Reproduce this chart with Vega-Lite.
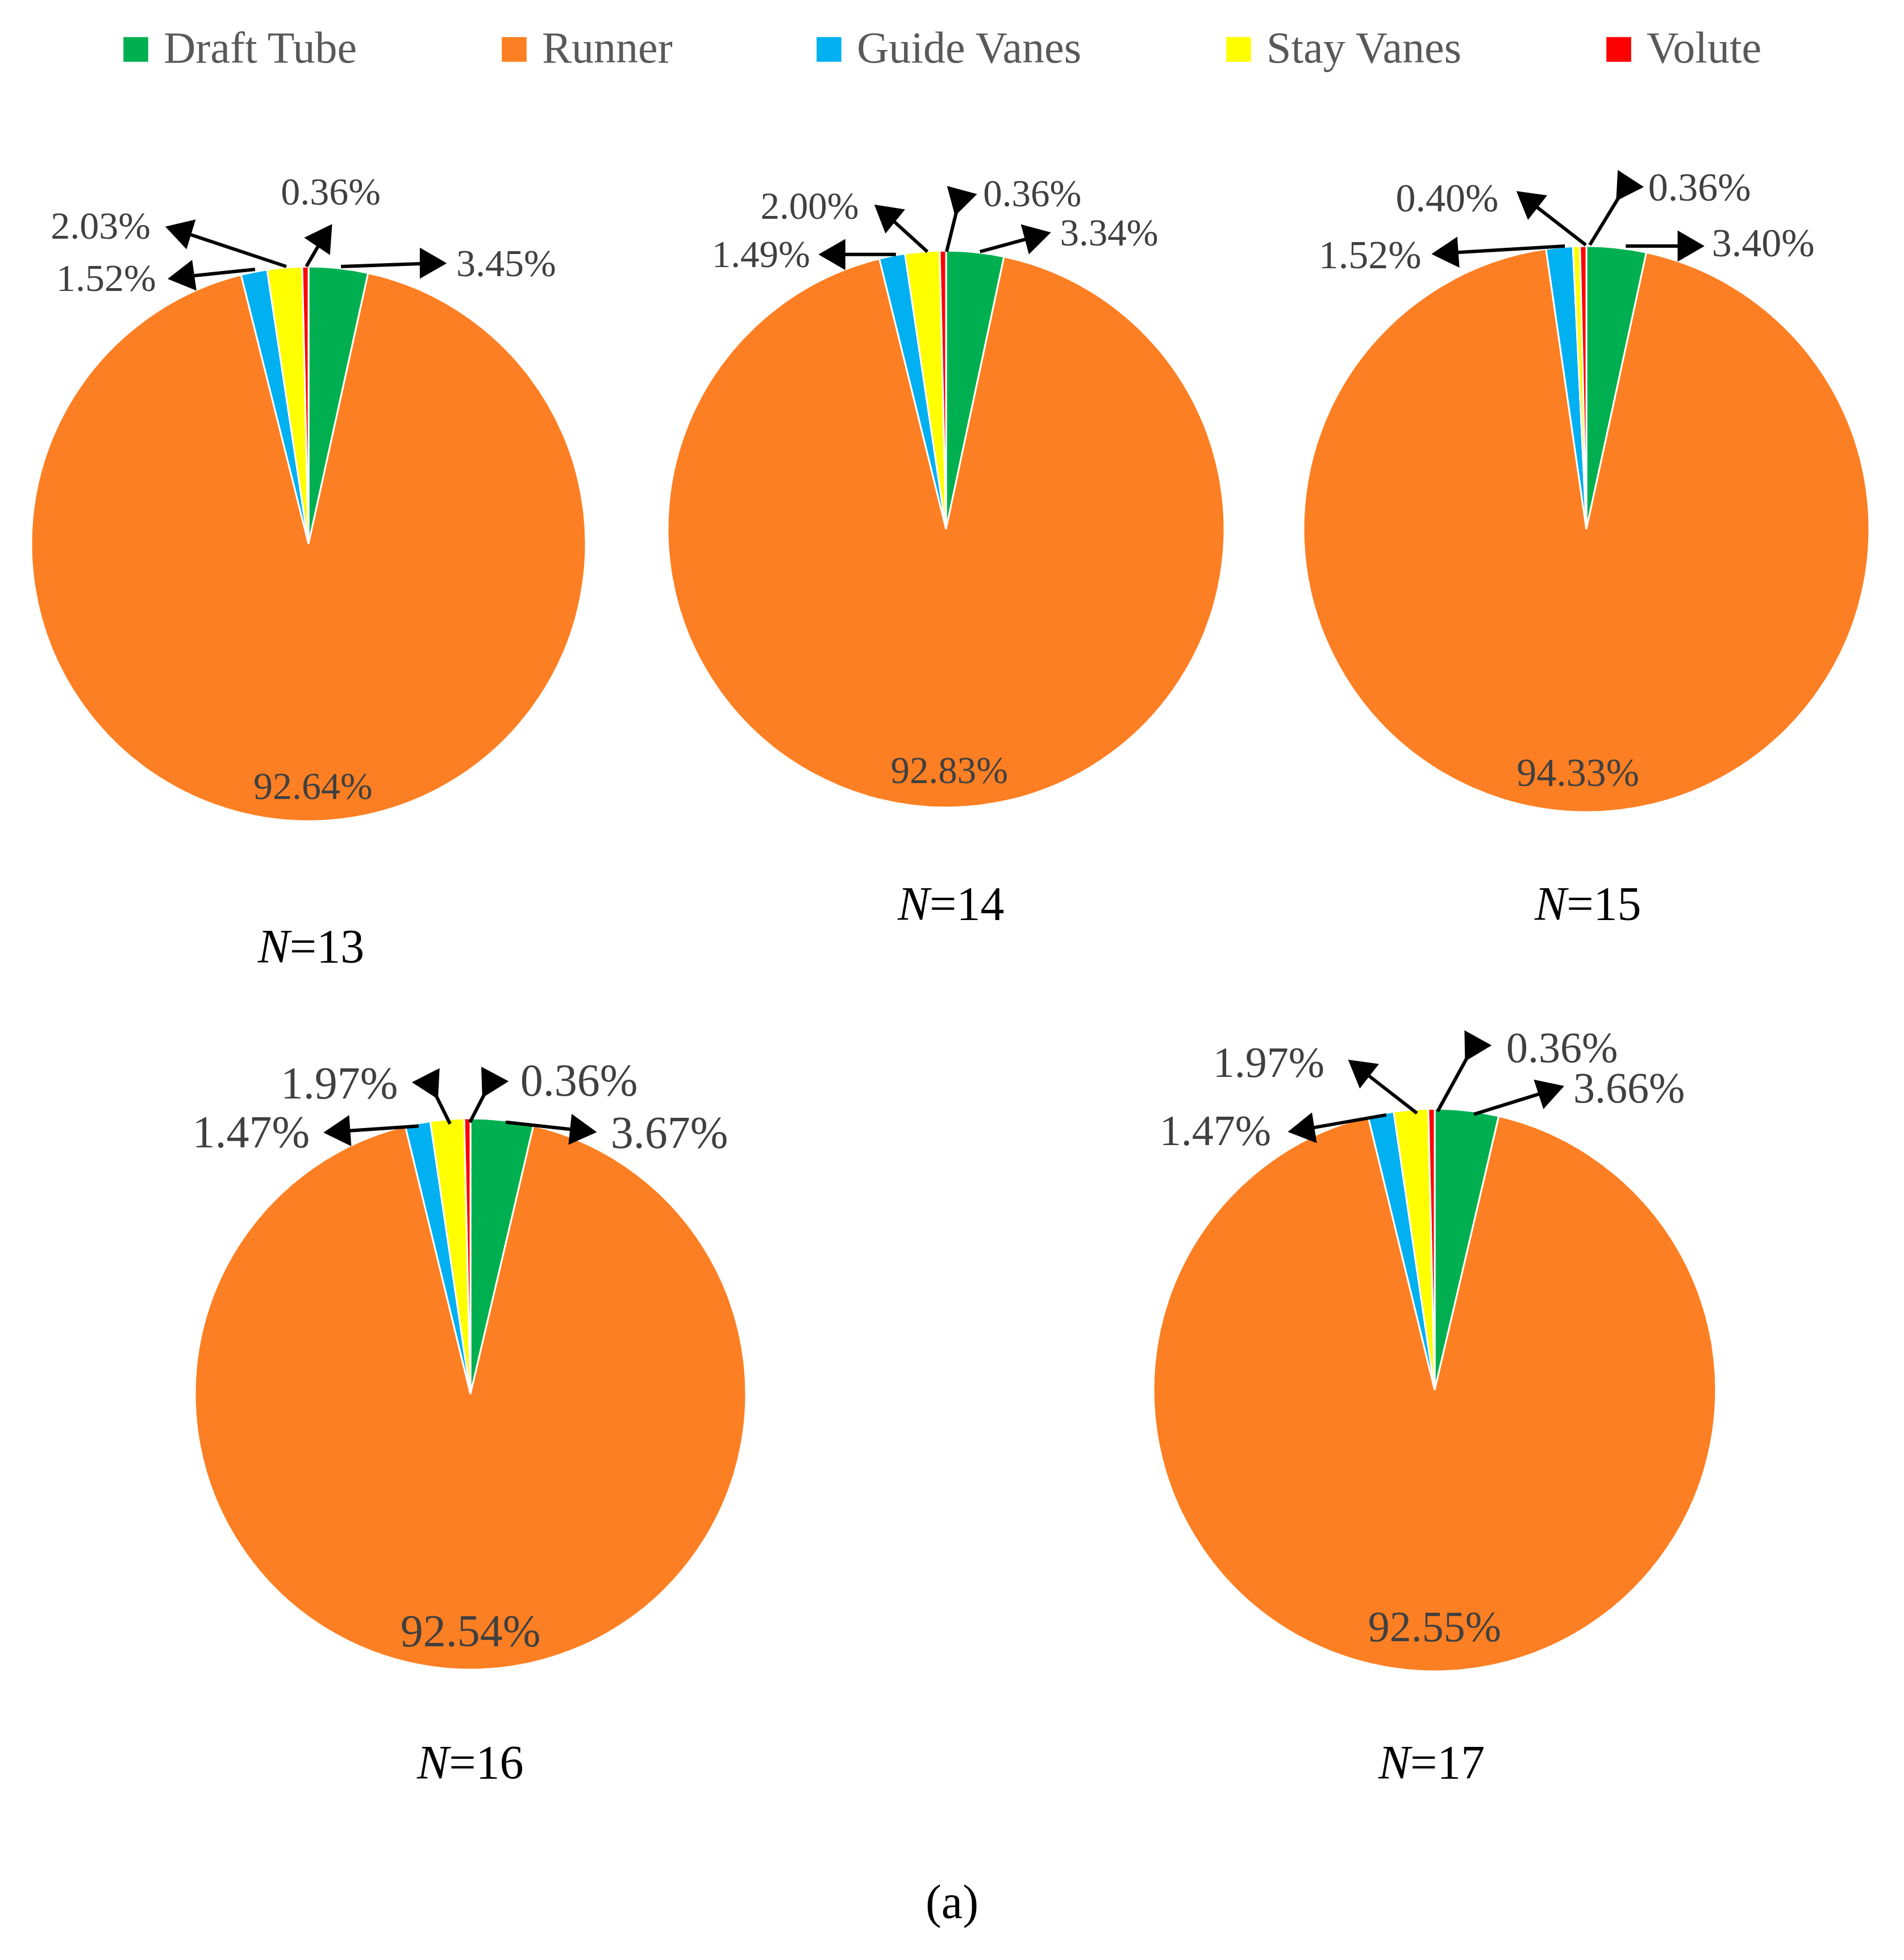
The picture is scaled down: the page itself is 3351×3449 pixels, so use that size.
{
  "$schema": "https://vega.github.io/schema/vega-lite/v6.json",
  "padding": 0,
  "background": "white",
  "datasets": {
    "parts": [
      {"pie": 13, "part": "Draft Tube", "order": 1, "share": 0.0345},
      {"pie": 13, "part": "Runner", "order": 2, "share": 0.9264},
      {"pie": 13, "part": "Guide Vanes", "order": 3, "share": 0.0152},
      {"pie": 13, "part": "Stay Vanes", "order": 4, "share": 0.0203},
      {"pie": 13, "part": "Volute", "order": 5, "share": 0.0036},
      {"pie": 14, "part": "Draft Tube", "order": 1, "share": 0.0334},
      {"pie": 14, "part": "Runner", "order": 2, "share": 0.9283},
      {"pie": 14, "part": "Guide Vanes", "order": 3, "share": 0.0149},
      {"pie": 14, "part": "Stay Vanes", "order": 4, "share": 0.0200},
      {"pie": 14, "part": "Volute", "order": 5, "share": 0.0036},
      {"pie": 15, "part": "Draft Tube", "order": 1, "share": 0.0340},
      {"pie": 15, "part": "Runner", "order": 2, "share": 0.9433},
      {"pie": 15, "part": "Guide Vanes", "order": 3, "share": 0.0152},
      {"pie": 15, "part": "Stay Vanes", "order": 4, "share": 0.0040},
      {"pie": 15, "part": "Volute", "order": 5, "share": 0.0036},
      {"pie": 16, "part": "Draft Tube", "order": 1, "share": 0.0367},
      {"pie": 16, "part": "Runner", "order": 2, "share": 0.9254},
      {"pie": 16, "part": "Guide Vanes", "order": 3, "share": 0.0147},
      {"pie": 16, "part": "Stay Vanes", "order": 4, "share": 0.0197},
      {"pie": 16, "part": "Volute", "order": 5, "share": 0.0036},
      {"pie": 17, "part": "Draft Tube", "order": 1, "share": 0.0366},
      {"pie": 17, "part": "Runner", "order": 2, "share": 0.9255},
      {"pie": 17, "part": "Guide Vanes", "order": 3, "share": 0.0147},
      {"pie": 17, "part": "Stay Vanes", "order": 4, "share": 0.0197},
      {"pie": 17, "part": "Volute", "order": 5, "share": 0.0036}
    ],
    "panels": [
      {"pie": 13, "n": "=13"},
      {"pie": 14, "n": "=14"},
      {"pie": 15, "n": "=15"},
      {"pie": 16, "n": "=16"},
      {"pie": 17, "n": "=17"}
    ],
    "c13": [
      {"part": "Draft Tube", "ax": 0.117, "ay": 1.0, "hx": 0.45, "hy": 1.012, "head": 0, "tx": 0.713, "ty": 1.006},
      {"part": "Runner", "tx": 0.016, "ty": -0.879},
      {"part": "Guide Vanes", "ax": -0.193, "ay": 0.99, "hx": -0.46, "hy": 0.962, "head": 172, "tx": -0.73, "ty": 0.953},
      {"part": "Stay Vanes", "ax": -0.08, "ay": 1.0, "hx": -0.47, "hy": 1.13, "head": -163, "tx": -0.75, "ty": 1.141},
      {"part": "Volute", "ax": -0.008, "ay": 1.0, "hx": 0.058, "hy": 1.113, "head": -56, "tx": 0.08, "ty": 1.264}
    ],
    "c14": [
      {"part": "Draft Tube", "ax": 0.122, "ay": 0.996, "hx": 0.33, "hy": 1.053, "head": -15, "tx": 0.586, "ty": 1.059},
      {"part": "Runner", "tx": 0.012, "ty": -0.871},
      {"part": "Guide Vanes", "ax": -0.18, "ay": 0.986, "hx": -0.41, "hy": 0.986, "head": 180, "tx": -0.665, "ty": 0.982},
      {"part": "Stay Vanes", "ax": -0.067, "ay": 0.996, "hx": -0.22, "hy": 1.135, "head": -141, "tx": -0.49, "ty": 1.155},
      {"part": "Volute", "ax": 0.002, "ay": 0.996, "hx": 0.045, "hy": 1.171, "head": 105, "tx": 0.31, "ty": 1.2}
    ],
    "c15": [
      {"part": "Draft Tube", "ax": 0.139, "ay": 1.0, "hx": 0.37, "hy": 1.0, "head": 0, "tx": 0.625, "ty": 1.006},
      {"part": "Runner", "tx": -0.03, "ty": -0.865},
      {"part": "Guide Vanes", "ax": -0.076, "ay": 1.0, "hx": -0.5, "hy": 0.975, "head": 176, "tx": -0.765, "ty": 0.964},
      {"part": "Stay Vanes", "ax": -0.002, "ay": 1.004, "hx": -0.21, "hy": 1.165, "head": -142, "tx": -0.492, "ty": 1.165},
      {"part": "Volute", "ax": 0.012, "ay": 1.004, "hx": 0.131, "hy": 1.199, "head": 123, "tx": 0.4, "ty": 1.203}
    ],
    "c16": [
      {"part": "Draft Tube", "ax": 0.128, "ay": 0.986, "hx": 0.41, "hy": 0.955, "head": 6, "tx": 0.722, "ty": 0.942},
      {"part": "Runner", "tx": 0.0, "ty": -0.866},
      {"part": "Guide Vanes", "ax": -0.188, "ay": 0.972, "hx": -0.485, "hy": 0.952, "head": 176, "tx": -0.796, "ty": 0.945},
      {"part": "Stay Vanes", "ax": -0.074, "ay": 0.98, "hx": -0.14, "hy": 1.113, "head": 63, "tx": -0.476, "ty": 1.122},
      {"part": "Volute", "ax": -0.002, "ay": 0.986, "hx": 0.066, "hy": 1.118, "head": 118, "tx": 0.394, "ty": 1.132}
    ],
    "c17": [
      {"part": "Draft Tube", "ax": 0.139, "ay": 0.98, "hx": 0.415, "hy": 1.066, "head": -18, "tx": 0.691, "ty": 1.068},
      {"part": "Runner", "tx": 0.0, "ty": -0.846},
      {"part": "Guide Vanes", "ax": -0.172, "ay": 0.978, "hx": -0.475, "hy": 0.925, "head": 171, "tx": -0.78, "ty": 0.917},
      {"part": "Stay Vanes", "ax": -0.063, "ay": 0.984, "hx": -0.27, "hy": 1.145, "head": -142, "tx": -0.59, "ty": 1.16},
      {"part": "Volute", "ax": 0.01, "ay": 0.99, "hx": 0.131, "hy": 1.21, "head": 119, "tx": 0.453, "ty": 1.212}
    ]
  },
  "title": {
    "text": "(a)",
    "orient": "bottom",
    "anchor": "middle",
    "font": "Liberation Serif",
    "fontSize": 84,
    "fontWeight": "normal",
    "color": "#000000",
    "offset": 79
  },
  "spacing": 0,
  "vconcat": [
    {
      "spacing": 0,
      "hconcat": [
        {
          "width": 1110,
          "height": 1740,
          "layer": [
            {
              "data": {"name": "parts"},
              "transform": [
                {"filter": "datum.pie == 13"},
                {"stack": "share", "groupby": ["pie"], "sort": [{"field": "order", "order": "ascending"}], "offset": "normalize", "as": ["s0", "s1"]}
              ],
              "mark": {"type": "arc", "radius": 488, "stroke": "#ffffff", "strokeWidth": 3},
              "encoding": {
                "x": {"datum": 0, "type": "quantitative", "scale": {"domain": [-1.1127, 1.1619], "nice": false, "zero": false}, "axis": null},
                "y": {"datum": 0, "type": "quantitative", "scale": {"domain": [-1.6045, 1.9611], "nice": false, "zero": false}, "axis": null},
                "theta": {"field": "s0", "type": "quantitative", "scale": {"domain": [0, 1]}, "stack": null},
                "theta2": {"field": "s1"},
                "color": {
                  "field": "part",
                  "type": "nominal",
                  "scale": {"domain": ["Draft Tube", "Runner", "Guide Vanes", "Stay Vanes", "Volute"], "range": ["#00b050", "#fd7f23", "#00b0f0", "#ffff00", "#ff0000"]},
                  "legend": {"orient": "none", "legendX": 200, "legendY": 48, "direction": "horizontal", "title": null, "symbolType": "square", "symbolSize": 1900, "symbolStrokeWidth": 0, "labelFont": "Liberation Serif", "labelFontSize": 78, "labelColor": "#595959", "columnPadding": 236, "labelOffset": 10, "labelLimit": 0}
                }
              }
            },
            {
              "data": {"name": "c13"},
              "transform": [{"filter": "isValid(datum.ax)"}],
              "mark": {"type": "rule", "color": "#000000", "strokeWidth": 6},
              "encoding": {
                "x": {"field": "ax", "type": "quantitative"},
                "y": {"field": "ay", "type": "quantitative"},
                "x2": {"field": "hx"},
                "y2": {"field": "hy"}
              }
            },
            {
              "data": {"name": "c13"},
              "transform": [{"filter": "isValid(datum.ax)"}],
              "mark": {"type": "point", "shape": "triangle-right", "filled": true, "color": "#000000", "opacity": 1, "size": 3000},
              "encoding": {
                "x": {"field": "hx", "type": "quantitative"},
                "y": {"field": "hy", "type": "quantitative"},
                "angle": {"field": "head", "type": "quantitative", "scale": null}
              }
            },
            {
              "data": {"name": "parts"},
              "transform": [
                {"filter": "datum.pie == 13"},
                {"lookup": "part", "from": {"data": {"name": "c13"}, "key": "part", "fields": ["tx", "ty"]}}
              ],
              "mark": {"type": "text", "font": "Liberation Serif", "fontSize": 68, "color": "#404040", "align": "center", "baseline": "middle"},
              "encoding": {
                "x": {"field": "tx", "type": "quantitative"},
                "y": {"field": "ty", "type": "quantitative"},
                "text": {"field": "share", "type": "quantitative", "format": ".2%"}
              }
            },
            {
              "data": {"name": "panels"},
              "transform": [{"filter": "datum.pie == 13"}],
              "layer": [
                {
                  "mark": {"type": "text", "text": "N", "font": "Liberation Serif", "fontStyle": "italic", "fontSize": 84, "color": "#000000", "align": "right", "baseline": "middle"},
                  "encoding": {"x": {"datum": -0.068, "type": "quantitative"}, "y": {"datum": -1.459, "type": "quantitative"}}
                },
                {
                  "mark": {"type": "text", "font": "Liberation Serif", "fontSize": 84, "color": "#000000", "align": "left", "baseline": "middle"},
                  "encoding": {"x": {"datum": -0.068, "type": "quantitative"}, "y": {"datum": -1.459, "type": "quantitative"}, "text": {"field": "n"}}
                }
              ]
            }
          ]
        },
        {
          "width": 1110,
          "height": 1740,
          "layer": [
            {
              "data": {"name": "parts"},
              "transform": [
                {"filter": "datum.pie == 14"},
                {"stack": "share", "groupby": ["pie"], "sort": [{"field": "order", "order": "ascending"}], "offset": "normalize", "as": ["s0", "s1"]}
              ],
              "mark": {"type": "arc", "radius": 490, "stroke": "#ffffff", "strokeWidth": 3},
              "encoding": {
                "x": {"datum": 0, "type": "quantitative", "scale": {"domain": [-1.1327, 1.1327], "nice": false, "zero": false}, "axis": null},
                "y": {"datum": 0, "type": "quantitative", "scale": {"domain": [-1.651, 1.9], "nice": false, "zero": false}, "axis": null},
                "theta": {"field": "s0", "type": "quantitative", "scale": {"domain": [0, 1]}, "stack": null},
                "theta2": {"field": "s1"},
                "color": {
                  "field": "part",
                  "type": "nominal",
                  "scale": {"domain": ["Draft Tube", "Runner", "Guide Vanes", "Stay Vanes", "Volute"], "range": ["#00b050", "#fd7f23", "#00b0f0", "#ffff00", "#ff0000"]},
                  "legend": {"orient": "none", "legendX": 200, "legendY": 48, "direction": "horizontal", "title": null, "symbolType": "square", "symbolSize": 1900, "symbolStrokeWidth": 0, "labelFont": "Liberation Serif", "labelFontSize": 78, "labelColor": "#595959", "columnPadding": 236, "labelOffset": 10, "labelLimit": 0}
                }
              }
            },
            {
              "data": {"name": "c14"},
              "transform": [{"filter": "isValid(datum.ax)"}],
              "mark": {"type": "rule", "color": "#000000", "strokeWidth": 6},
              "encoding": {
                "x": {"field": "ax", "type": "quantitative"},
                "y": {"field": "ay", "type": "quantitative"},
                "x2": {"field": "hx"},
                "y2": {"field": "hy"}
              }
            },
            {
              "data": {"name": "c14"},
              "transform": [{"filter": "isValid(datum.ax)"}],
              "mark": {"type": "point", "shape": "triangle-right", "filled": true, "color": "#000000", "opacity": 1, "size": 3000},
              "encoding": {
                "x": {"field": "hx", "type": "quantitative"},
                "y": {"field": "hy", "type": "quantitative"},
                "angle": {"field": "head", "type": "quantitative", "scale": null}
              }
            },
            {
              "data": {"name": "parts"},
              "transform": [
                {"filter": "datum.pie == 14"},
                {"lookup": "part", "from": {"data": {"name": "c14"}, "key": "part", "fields": ["tx", "ty"]}}
              ],
              "mark": {"type": "text", "font": "Liberation Serif", "fontSize": 67, "color": "#404040", "align": "center", "baseline": "middle"},
              "encoding": {
                "x": {"field": "tx", "type": "quantitative"},
                "y": {"field": "ty", "type": "quantitative"},
                "text": {"field": "share", "type": "quantitative", "format": ".2%"}
              }
            },
            {
              "data": {"name": "panels"},
              "transform": [{"filter": "datum.pie == 14"}],
              "layer": [
                {
                  "mark": {"type": "text", "text": "N", "font": "Liberation Serif", "fontStyle": "italic", "fontSize": 84, "color": "#000000", "align": "right", "baseline": "middle"},
                  "encoding": {"x": {"datum": -0.059, "type": "quantitative"}, "y": {"datum": -1.353, "type": "quantitative"}}
                },
                {
                  "mark": {"type": "text", "font": "Liberation Serif", "fontSize": 84, "color": "#000000", "align": "left", "baseline": "middle"},
                  "encoding": {"x": {"datum": -0.059, "type": "quantitative"}, "y": {"datum": -1.353, "type": "quantitative"}, "text": {"field": "n"}}
                }
              ]
            }
          ]
        },
        {
          "width": 1131,
          "height": 1740,
          "layer": [
            {
              "data": {"name": "parts"},
              "transform": [
                {"filter": "datum.pie == 15"},
                {"stack": "share", "groupby": ["pie"], "sort": [{"field": "order", "order": "ascending"}], "offset": "normalize", "as": ["s0", "s1"]}
              ],
              "mark": {"type": "arc", "radius": 498, "stroke": "#ffffff", "strokeWidth": 3},
              "encoding": {
                "x": {"datum": 0, "type": "quantitative", "scale": {"domain": [-1.1486, 1.1225], "nice": false, "zero": false}, "axis": null},
                "y": {"datum": 0, "type": "quantitative", "scale": {"domain": [-1.6245, 1.8695], "nice": false, "zero": false}, "axis": null},
                "theta": {"field": "s0", "type": "quantitative", "scale": {"domain": [0, 1]}, "stack": null},
                "theta2": {"field": "s1"},
                "color": {
                  "field": "part",
                  "type": "nominal",
                  "scale": {"domain": ["Draft Tube", "Runner", "Guide Vanes", "Stay Vanes", "Volute"], "range": ["#00b050", "#fd7f23", "#00b0f0", "#ffff00", "#ff0000"]},
                  "legend": {"orient": "none", "legendX": 200, "legendY": 48, "direction": "horizontal", "title": null, "symbolType": "square", "symbolSize": 1900, "symbolStrokeWidth": 0, "labelFont": "Liberation Serif", "labelFontSize": 78, "labelColor": "#595959", "columnPadding": 236, "labelOffset": 10, "labelLimit": 0}
                }
              }
            },
            {
              "data": {"name": "c15"},
              "transform": [{"filter": "isValid(datum.ax)"}],
              "mark": {"type": "rule", "color": "#000000", "strokeWidth": 6},
              "encoding": {
                "x": {"field": "ax", "type": "quantitative"},
                "y": {"field": "ay", "type": "quantitative"},
                "x2": {"field": "hx"},
                "y2": {"field": "hy"}
              }
            },
            {
              "data": {"name": "c15"},
              "transform": [{"filter": "isValid(datum.ax)"}],
              "mark": {"type": "point", "shape": "triangle-right", "filled": true, "color": "#000000", "opacity": 1, "size": 3000},
              "encoding": {
                "x": {"field": "hx", "type": "quantitative"},
                "y": {"field": "hy", "type": "quantitative"},
                "angle": {"field": "head", "type": "quantitative", "scale": null}
              }
            },
            {
              "data": {"name": "parts"},
              "transform": [
                {"filter": "datum.pie == 15"},
                {"lookup": "part", "from": {"data": {"name": "c15"}, "key": "part", "fields": ["tx", "ty"]}}
              ],
              "mark": {"type": "text", "font": "Liberation Serif", "fontSize": 70, "color": "#404040", "align": "center", "baseline": "middle"},
              "encoding": {
                "x": {"field": "tx", "type": "quantitative"},
                "y": {"field": "ty", "type": "quantitative"},
                "text": {"field": "share", "type": "quantitative", "format": ".2%"}
              }
            },
            {
              "data": {"name": "panels"},
              "transform": [{"filter": "datum.pie == 15"}],
              "layer": [
                {
                  "mark": {"type": "text", "text": "N", "font": "Liberation Serif", "fontStyle": "italic", "fontSize": 84, "color": "#000000", "align": "right", "baseline": "middle"},
                  "encoding": {"x": {"datum": -0.07, "type": "quantitative"}, "y": {"datum": -1.331, "type": "quantitative"}}
                },
                {
                  "mark": {"type": "text", "font": "Liberation Serif", "fontSize": 84, "color": "#000000", "align": "left", "baseline": "middle"},
                  "encoding": {"x": {"datum": -0.07, "type": "quantitative"}, "y": {"datum": -1.331, "type": "quantitative"}, "text": {"field": "n"}}
                }
              ]
            }
          ]
        }
      ]
    },
    {
      "spacing": 0,
      "hconcat": [
        {
          "width": 1676,
          "height": 1490,
          "layer": [
            {
              "data": {"name": "parts"},
              "transform": [
                {"filter": "datum.pie == 16"},
                {"stack": "share", "groupby": ["pie"], "sort": [{"field": "order", "order": "ascending"}], "offset": "normalize", "as": ["s0", "s1"]}
              ],
              "mark": {"type": "arc", "radius": 485, "stroke": "#ffffff", "strokeWidth": 3},
              "encoding": {
                "x": {"datum": 0, "type": "quantitative", "scale": {"domain": [-1.7072, 1.7485], "nice": false, "zero": false}, "axis": null},
                "y": {"datum": 0, "type": "quantitative", "scale": {"domain": [-1.6021, 1.4701], "nice": false, "zero": false}, "axis": null},
                "theta": {"field": "s0", "type": "quantitative", "scale": {"domain": [0, 1]}, "stack": null},
                "theta2": {"field": "s1"},
                "color": {
                  "field": "part",
                  "type": "nominal",
                  "scale": {"domain": ["Draft Tube", "Runner", "Guide Vanes", "Stay Vanes", "Volute"], "range": ["#00b050", "#fd7f23", "#00b0f0", "#ffff00", "#ff0000"]},
                  "legend": {"orient": "none", "legendX": 200, "legendY": 48, "direction": "horizontal", "title": null, "symbolType": "square", "symbolSize": 1900, "symbolStrokeWidth": 0, "labelFont": "Liberation Serif", "labelFontSize": 78, "labelColor": "#595959", "columnPadding": 236, "labelOffset": 10, "labelLimit": 0}
                }
              }
            },
            {
              "data": {"name": "c16"},
              "transform": [{"filter": "isValid(datum.ax)"}],
              "mark": {"type": "rule", "color": "#000000", "strokeWidth": 6},
              "encoding": {
                "x": {"field": "ax", "type": "quantitative"},
                "y": {"field": "ay", "type": "quantitative"},
                "x2": {"field": "hx"},
                "y2": {"field": "hy"}
              }
            },
            {
              "data": {"name": "c16"},
              "transform": [{"filter": "isValid(datum.ax)"}],
              "mark": {"type": "point", "shape": "triangle-right", "filled": true, "color": "#000000", "opacity": 1, "size": 3000},
              "encoding": {
                "x": {"field": "hx", "type": "quantitative"},
                "y": {"field": "hy", "type": "quantitative"},
                "angle": {"field": "head", "type": "quantitative", "scale": null}
              }
            },
            {
              "data": {"name": "parts"},
              "transform": [
                {"filter": "datum.pie == 16"},
                {"lookup": "part", "from": {"data": {"name": "c16"}, "key": "part", "fields": ["tx", "ty"]}}
              ],
              "mark": {"type": "text", "font": "Liberation Serif", "fontSize": 80, "color": "#404040", "align": "center", "baseline": "middle"},
              "encoding": {
                "x": {"field": "tx", "type": "quantitative"},
                "y": {"field": "ty", "type": "quantitative"},
                "text": {"field": "share", "type": "quantitative", "format": ".2%"}
              }
            },
            {
              "data": {"name": "panels"},
              "transform": [{"filter": "datum.pie == 16"}],
              "layer": [
                {
                  "mark": {"type": "text", "text": "N", "font": "Liberation Serif", "fontStyle": "italic", "fontSize": 84, "color": "#000000", "align": "right", "baseline": "middle"},
                  "encoding": {"x": {"datum": -0.078, "type": "quantitative"}, "y": {"datum": -1.344, "type": "quantitative"}}
                },
                {
                  "mark": {"type": "text", "font": "Liberation Serif", "fontSize": 84, "color": "#000000", "align": "left", "baseline": "middle"},
                  "encoding": {"x": {"datum": -0.078, "type": "quantitative"}, "y": {"datum": -1.344, "type": "quantitative"}, "text": {"field": "n"}}
                }
              ]
            }
          ]
        },
        {
          "width": 1675,
          "height": 1490,
          "layer": [
            {
              "data": {"name": "parts"},
              "transform": [
                {"filter": "datum.pie == 17"},
                {"stack": "share", "groupby": ["pie"], "sort": [{"field": "order", "order": "ascending"}], "offset": "normalize", "as": ["s0", "s1"]}
              ],
              "mark": {"type": "arc", "radius": 495, "stroke": "#ffffff", "strokeWidth": 3},
              "encoding": {
                "x": {"datum": 0, "type": "quantitative", "scale": {"domain": [-1.7152, 1.6687], "nice": false, "zero": false}, "axis": null},
                "y": {"datum": 0, "type": "quantitative", "scale": {"domain": [-1.5838, 1.4263], "nice": false, "zero": false}, "axis": null},
                "theta": {"field": "s0", "type": "quantitative", "scale": {"domain": [0, 1]}, "stack": null},
                "theta2": {"field": "s1"},
                "color": {
                  "field": "part",
                  "type": "nominal",
                  "scale": {"domain": ["Draft Tube", "Runner", "Guide Vanes", "Stay Vanes", "Volute"], "range": ["#00b050", "#fd7f23", "#00b0f0", "#ffff00", "#ff0000"]},
                  "legend": {"orient": "none", "legendX": 200, "legendY": 48, "direction": "horizontal", "title": null, "symbolType": "square", "symbolSize": 1900, "symbolStrokeWidth": 0, "labelFont": "Liberation Serif", "labelFontSize": 78, "labelColor": "#595959", "columnPadding": 236, "labelOffset": 10, "labelLimit": 0}
                }
              }
            },
            {
              "data": {"name": "c17"},
              "transform": [{"filter": "isValid(datum.ax)"}],
              "mark": {"type": "rule", "color": "#000000", "strokeWidth": 6},
              "encoding": {
                "x": {"field": "ax", "type": "quantitative"},
                "y": {"field": "ay", "type": "quantitative"},
                "x2": {"field": "hx"},
                "y2": {"field": "hy"}
              }
            },
            {
              "data": {"name": "c17"},
              "transform": [{"filter": "isValid(datum.ax)"}],
              "mark": {"type": "point", "shape": "triangle-right", "filled": true, "color": "#000000", "opacity": 1, "size": 3000},
              "encoding": {
                "x": {"field": "hx", "type": "quantitative"},
                "y": {"field": "hy", "type": "quantitative"},
                "angle": {"field": "head", "type": "quantitative", "scale": null}
              }
            },
            {
              "data": {"name": "parts"},
              "transform": [
                {"filter": "datum.pie == 17"},
                {"lookup": "part", "from": {"data": {"name": "c17"}, "key": "part", "fields": ["tx", "ty"]}}
              ],
              "mark": {"type": "text", "font": "Liberation Serif", "fontSize": 76, "color": "#404040", "align": "center", "baseline": "middle"},
              "encoding": {
                "x": {"field": "tx", "type": "quantitative"},
                "y": {"field": "ty", "type": "quantitative"},
                "text": {"field": "share", "type": "quantitative", "format": ".2%"}
              }
            },
            {
              "data": {"name": "panels"},
              "transform": [{"filter": "datum.pie == 17"}],
              "layer": [
                {
                  "mark": {"type": "text", "text": "N", "font": "Liberation Serif", "fontStyle": "italic", "fontSize": 84, "color": "#000000", "align": "right", "baseline": "middle"},
                  "encoding": {"x": {"datum": -0.087, "type": "quantitative"}, "y": {"datum": -1.331, "type": "quantitative"}}
                },
                {
                  "mark": {"type": "text", "font": "Liberation Serif", "fontSize": 84, "color": "#000000", "align": "left", "baseline": "middle"},
                  "encoding": {"x": {"datum": -0.087, "type": "quantitative"}, "y": {"datum": -1.331, "type": "quantitative"}, "text": {"field": "n"}}
                }
              ]
            }
          ]
        }
      ]
    }
  ],
  "config": {
    "view": {"stroke": null}
  }
}
